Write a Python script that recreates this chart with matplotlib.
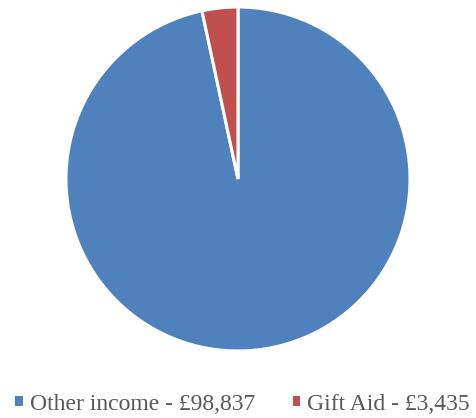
import matplotlib.pyplot as plt
from matplotlib.patches import Patch

# data
labels = ['Other income', 'Gift Aid']
values = [98837, 3435]
colors = ['#4F81BD', '#C0504D']

W, H = 477, 418
fig = plt.figure(figsize=(W / 100, H / 100), dpi=100)

# pie centre ~ (238, 179) px, radius ~172 px
cx, cy, r = 238, 179, 172
ax = fig.add_axes([(cx - r) / W, 1 - (cy + r) / H, 2 * r / W, 2 * r / H])
ax.pie(values, colors=colors, startangle=90, counterclock=False, radius=1,
       wedgeprops=dict(edgecolor='white', linewidth=2.2))
ax.set_xlim(-1, 1)
ax.set_ylim(-1, 1)
ax.set_aspect('equal')
ax.axis('off')

handles = [Patch(facecolor=c, edgecolor='none') for c in colors]
leg_labels = [f'{l} - £{v:,}' for l, v in zip(labels, values)]
fig.legend(handles, leg_labels, loc='center', bbox_to_anchor=(0.5 + 4 / W, 1 - 404 / H),
           ncol=2, frameon=False, handlelength=0.32, handleheight=0.32,
           handletextpad=0.3, columnspacing=1.6,
           prop=dict(family='Liberation Serif', size=17), labelcolor='#595959')

fig.savefig('out.png', dpi=100)
